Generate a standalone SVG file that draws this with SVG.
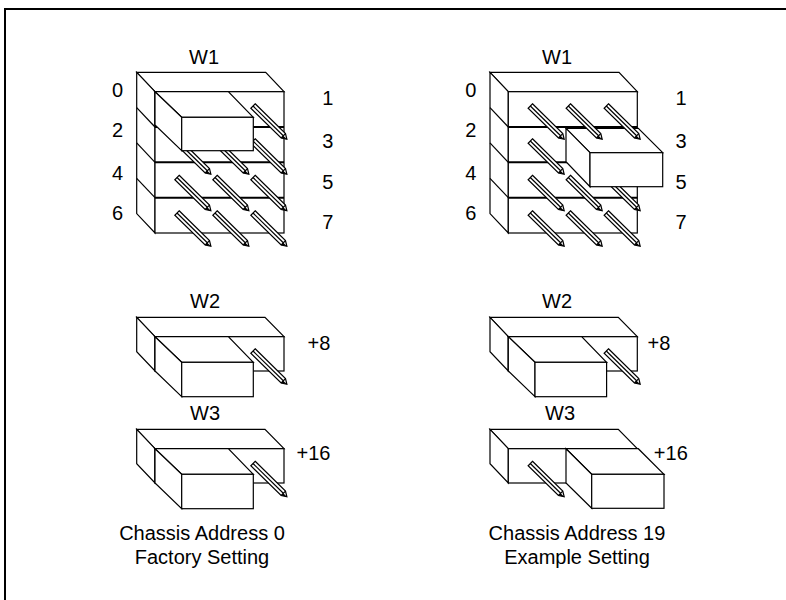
<svg xmlns="http://www.w3.org/2000/svg" xmlns:xlink="http://www.w3.org/1999/xlink" width="786" height="600" viewBox="0 0 786 600">
<style>
.f{fill:#fff;stroke:#000;stroke-width:1.2;stroke-linejoin:miter}
.l{fill:none;stroke:#000;stroke-width:1.2}
.r{fill:none;stroke:#000;stroke-width:2}
.t{font-family:"Liberation Sans",Arial,sans-serif;font-size:20px;fill:#000;text-anchor:middle}
.frame{fill:none;stroke:#000;stroke-width:2}
</style>
<defs>
<g id="pin">
<polygon class="f" points="0,-3.1 42.5,-3.1 47.5,0 42.5,3.1 0,3.1"/>
<line class="l" x1="0" y1="0" x2="42.5" y2="0" stroke-width="0.9"/>
<line class="l" x1="42.5" y1="-3.1" x2="42.5" y2="3.1" stroke-width="0.9"/>
<polygon points="42.5,0 47.5,0 42.5,3.1" fill="#000"/>
</g>
</defs>
<rect width="786" height="600" fill="#fff"/>
<path class="frame" d="M5,600 V9 H786"/>

<g id="w1-left">
<polygon class="f" points="136.7,72.3 265.7,72.3 284,91.7 155,91.7"/>
<polygon class="f" points="136.7,72.3 155,91.7 155,233 136.7,213.6"/>
<rect class="f" x="155" y="91.7" width="129" height="141.3"/>
<line class="r" x1="155" y1="127" x2="284" y2="127"/>
<line class="r" x1="155" y1="162.3" x2="284" y2="162.3"/>
<line class="r" x1="155" y1="197.7" x2="284" y2="197.7"/>
<line class="l" x1="136.7" y1="107.6" x2="155" y2="127"/>
<line class="l" x1="136.7" y1="142.9" x2="155" y2="162.3"/>
<line class="l" x1="136.7" y1="178.3" x2="155" y2="197.7"/>
<use xlink:href="#pin" transform="translate(253,106) rotate(44.5)"/>
<use xlink:href="#pin" transform="translate(177,141) rotate(44.5)"/>
<use xlink:href="#pin" transform="translate(215,141) rotate(44.5)"/>
<use xlink:href="#pin" transform="translate(253,141) rotate(44.5)"/>
<use xlink:href="#pin" transform="translate(177,177.5) rotate(44.5)"/>
<use xlink:href="#pin" transform="translate(215,177.5) rotate(44.5)"/>
<use xlink:href="#pin" transform="translate(253,177.5) rotate(44.5)"/>
<use xlink:href="#pin" transform="translate(177,213) rotate(44.5)"/>
<use xlink:href="#pin" transform="translate(215,213) rotate(44.5)"/>
<use xlink:href="#pin" transform="translate(253,213) rotate(44.5)"/>
<polygon class="f" points="155,91.7 228.3,91.7 253.3,117.3 181.7,117.3"/>
<polygon class="f" points="155,91.7 181.7,117.3 181.7,150.7 155,125"/>
<rect class="f" x="181.7" y="117.3" width="71.6" height="33.4"/>
<text class="t" x="204" y="64">W1</text>
<text class="t" x="117.5" y="97">0</text>
<text class="t" x="117.5" y="137">2</text>
<text class="t" x="117.5" y="179.5">4</text>
<text class="t" x="117.5" y="220">6</text>
<text class="t" x="327.7" y="105">1</text>
<text class="t" x="327.7" y="148">3</text>
<text class="t" x="327.7" y="188.5">5</text>
<text class="t" x="327.7" y="228.5">7</text>
</g>

<g id="w1-right">
<polygon class="f" points="490,72.3 619,72.3 637.3,91.7 508.3,91.7"/>
<polygon class="f" points="490,72.3 508.3,91.7 508.3,233 490,213.6"/>
<rect class="f" x="508.3" y="91.7" width="129" height="141.3"/>
<line class="r" x1="508.3" y1="127" x2="637.3" y2="127"/>
<line class="r" x1="508.3" y1="162.3" x2="637.3" y2="162.3"/>
<line class="r" x1="508.3" y1="197.7" x2="637.3" y2="197.7"/>
<line class="l" x1="490" y1="107.6" x2="508.3" y2="127"/>
<line class="l" x1="490" y1="142.9" x2="508.3" y2="162.3"/>
<line class="l" x1="490" y1="178.3" x2="508.3" y2="197.7"/>
<use xlink:href="#pin" transform="translate(530.3,141) rotate(44.5)"/>
<use xlink:href="#pin" transform="translate(530.3,177.5) rotate(44.5)"/>
<use xlink:href="#pin" transform="translate(568.3,177.5) rotate(44.5)"/>
<use xlink:href="#pin" transform="translate(606.3,177.5) rotate(44.5)"/>
<use xlink:href="#pin" transform="translate(530.3,213) rotate(44.5)"/>
<use xlink:href="#pin" transform="translate(568.3,213) rotate(44.5)"/>
<use xlink:href="#pin" transform="translate(606.3,213) rotate(44.5)"/>
<polygon class="f" points="566,128.3 638.3,128.3 662.7,152.7 590,152.7"/>
<polygon class="f" points="566,128.3 590,152.7 590,186.7 566,161.7"/>
<rect class="f" x="590" y="152.7" width="72.7" height="34"/>
<use xlink:href="#pin" transform="translate(530.3,106) rotate(44.5)"/>
<use xlink:href="#pin" transform="translate(568.3,106) rotate(44.5)"/>
<use xlink:href="#pin" transform="translate(606.3,106) rotate(44.5)"/>
<text class="t" x="557" y="64">W1</text>
<text class="t" x="470.8" y="97">0</text>
<text class="t" x="470.8" y="137">2</text>
<text class="t" x="470.8" y="179.5">4</text>
<text class="t" x="470.8" y="220">6</text>
<text class="t" x="681" y="105">1</text>
<text class="t" x="681" y="148">3</text>
<text class="t" x="681" y="188.5">5</text>
<text class="t" x="681" y="228.5">7</text>
</g>

<g id="w2-left">
<polygon class="f" points="136.7,317.3 265,317.3 284,336.7 155,336.7"/>
<polygon class="f" points="136.7,317.3 155,336.7 155,371 136.7,351.7"/>
<rect class="f" x="155" y="336.7" width="129" height="34.3"/>
<use xlink:href="#pin" transform="translate(253,351) rotate(44.5)"/>
<polygon class="f" points="155,336.7 228.3,336.7 253.3,362.3 181.7,362.3"/>
<polygon class="f" points="155,336.7 181.7,362.3 181.7,396.7 155,371"/>
<rect class="f" x="181.7" y="362.3" width="71.6" height="34.4"/>
<text class="t" x="205" y="308">W2</text>
<text class="t" x="319" y="350">+8</text>
</g>

<g id="w3-left">
<polygon class="f" points="136.7,429.3 265,429.3 284,448.7 155,448.7"/>
<polygon class="f" points="136.7,429.3 155,448.7 155,483 136.7,463.7"/>
<rect class="f" x="155" y="448.7" width="129" height="34.3"/>
<use xlink:href="#pin" transform="translate(253,463.5) rotate(44.5)"/>
<polygon class="f" points="155,448.7 228.3,448.7 253.3,474.3 181.7,474.3"/>
<polygon class="f" points="155,448.7 181.7,474.3 181.7,508.7 155,483"/>
<rect class="f" x="181.7" y="474.3" width="71.6" height="34.4"/>
<text class="t" x="205" y="419.5">W3</text>
<text class="t" x="313.5" y="460">+16</text>
</g>

<g id="w2-right">
<polygon class="f" points="490,317.3 618.3,317.3 637.3,336.7 508.3,336.7"/>
<polygon class="f" points="490,317.3 508.3,336.7 508.3,371 490,351.7"/>
<rect class="f" x="508.3" y="336.7" width="129" height="34.3"/>
<use xlink:href="#pin" transform="translate(606.3,351) rotate(44.5)"/>
<polygon class="f" points="508.3,336.7 581.6,336.7 606.6,362.3 535,362.3"/>
<polygon class="f" points="508.3,336.7 535,362.3 535,396.7 508.3,371"/>
<rect class="f" x="535" y="362.3" width="71.6" height="34.4"/>
<text class="t" x="557" y="308">W2</text>
<text class="t" x="659" y="350">+8</text>
</g>

<g id="w3-right">
<polygon class="f" points="490,429.3 618.3,429.3 637.3,448.7 508.3,448.7"/>
<polygon class="f" points="490,429.3 508.3,448.7 508.3,483 490,463.7"/>
<rect class="f" x="508.3" y="448.7" width="129" height="34.3"/>
<use xlink:href="#pin" transform="translate(530.3,463.5) rotate(44.5)"/>
<polygon class="f" points="566,448.7 638.3,448.7 664,474.3 591.7,474.3"/>
<polygon class="f" points="566,448.7 591.7,474.3 591.7,508.3 566,483"/>
<rect class="f" x="591.7" y="474.3" width="72.3" height="34"/>
<text class="t" x="560" y="419.5">W3</text>
<text class="t" x="670.8" y="460">+16</text>
</g>

<g id="captions">
<text class="t" x="202" y="540">Chassis Address 0</text>
<text class="t" x="202" y="564">Factory Setting</text>
<text class="t" x="577" y="540">Chassis Address 19</text>
<text class="t" x="577" y="564">Example Setting</text>
</g>
</svg>
